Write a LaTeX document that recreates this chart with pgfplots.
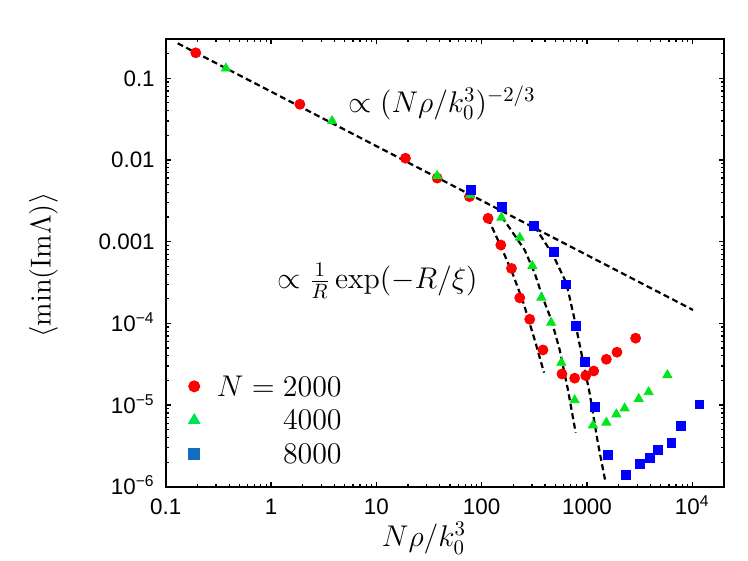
\documentclass[border=0pt]{standalone}
\usepackage[no-math]{fontspec}
\usepackage{graphicx}
\usepackage{pgfplots}
\usepackage{pgfplotstable}
\pgfplotsset{compat=1.18}
\newfontfamily\arial{Liberation Sans}
\definecolor{cred}{RGB}{255,0,0}
\definecolor{cgreen}{RGB}{0,230,30}
\definecolor{cblue}{RGB}{0,0,255}
\definecolor{lgreen}{RGB}{0,225,90}
\definecolor{lblue}{RGB}{20,110,190}
\newcommand{\sbx}[1]{\scalebox{1.04}{#1}}

\pgfplotstableread{
x y
0.193 0.205
1.88 0.048
18.9 0.0105
37.8 0.0060
76.6 0.00356
115 0.00193
152 0.00091
192 0.00047
230 0.000205
286 0.000112
382 4.72e-5
579 2.40e-5
764 2.13e-5
973 2.29e-5
1158 2.61e-5
1528 3.63e-5
1927 4.43e-5
2897 6.58e-5
}\redpts

\pgfplotstableread{
x y
0.373 0.132
3.8 0.030
37.8 0.0064
77.5 0.0037
154 0.00197
230 0.00112
303 0.000505
369 0.000207
457 0.000102
571 3.3e-5
764 1.15e-5
1141 5.65e-6
1528 6.1e-6
1901 7.7e-6
2280 9.1e-6
3100 1.19e-5
3850 1.44e-5
5800 2.33e-5
}\greenpts

\pgfplotstableread{
x y
79.5 0.0043
156 0.00264
314 0.00156
486 0.000755
628 0.00030
781 9.37e-5
950 3.34e-5
1183 9.55e-6
1582 2.45e-6
2328 1.41e-6
3162 1.9e-6
3935 2.23e-6
4720 2.82e-6
6320 3.4e-6
7740 5.6e-6
11700 1.02e-5
}\bluepts

\pgfplotstableread{
x y
115 0.00193
160 0.000755
199 0.000391
247 0.000185
319 6.27e-5
391 2.49e-5
}\redfit

\pgfplotstableread{
x y
154 0.00202
185 0.00146
256 0.000791
319 0.00041
382 0.000203
459 0.00011
551 4.72e-5
660 1.53e-5
781 4.59e-6
}\greenfit

\pgfplotstableread{
x y
319 0.00153
476 0.000687
638 0.00031
764 0.00011
885 4.3e-5
1061 1.39e-5
1271 3.4e-6
1496 1.15e-6
}\bluefit

\pgfplotstableread{
x y
0.13 0.268
10140 0.000146
}\powerfit

\begin{document}
\begin{tikzpicture}
\useasboundingbox (-82.85pt,-37.15pt) rectangle (291.15pt,243.35pt);
\begin{axis}[
  at={(0,0)}, anchor=south west,
  scale only axis, width=279.15pt, height=223.7pt,
  xmode=log, ymode=log,
  xmin=0.1, xmax=20000, ymin=1e-6, ymax=0.3,
  axis line style={line width=0.9pt},
  xtick={0.1,1,10,100,1000,10000},
  xticklabels={0.1,1,10,100,1000,10\textsuperscript{4}},
  ytick={1e-6,1e-5,1e-4,0.001,0.01,0.1},
  yticklabels={10\textsuperscript{−6},10\textsuperscript{−5},10\textsuperscript{−4},0.001,0.01,0.1},
  minor xtick={0.2,0.3,0.4,0.5,0.6,0.7,0.8,0.9,2,3,4,5,6,7,8,9,20,30,40,50,60,70,80,90,200,300,400,500,600,700,800,900,2000,3000,4000,5000,6000,7000,8000,9000},
  minor ytick={2e-6,3e-6,4e-6,5e-6,6e-6,7e-6,8e-6,9e-6,2e-5,3e-5,4e-5,5e-5,6e-5,7e-5,8e-5,9e-5,2e-4,3e-4,4e-4,5e-4,6e-4,7e-4,8e-4,9e-4,0.002,0.003,0.004,0.005,0.006,0.007,0.008,0.009,0.02,0.03,0.04,0.05,0.06,0.07,0.08,0.09,0.2},
  tick align=inside,
  major tick length=2.6pt, minor tick length=1.5pt,
  tick style={line width=0.6pt, black},
  ticklabel style={font=\arial\fontsize{11.2}{13}\selectfont},
  xticklabel style={anchor=north, inner sep=0pt, text height=8pt, text depth=0pt, yshift=-5.5pt},
  yticklabel style={anchor=east, inner sep=0pt, text height=8pt, text depth=0pt, xshift=-5.3pt},
  xlabel={\sbx{$N\rho/k_0^3$}},
  xlabel style={at={(axis description cs:0.4627,-0.1341)}, anchor=base, inner sep=0pt, font=\fontsize{14.4}{17}\selectfont},
  ylabel={$\langle \min(\mathrm{Im}\Lambda)\rangle$},
  ylabel style={at={(axis description cs:-0.2189,0.4955)}, anchor=center, inner sep=0pt, font=\fontsize{14.4}{17}\selectfont},
  legend style={draw=none, fill=none, at={(axis description cs:0.3152,0.2459)}, anchor=north east,
    inner sep=0pt, outer sep=0pt, row sep=7.3pt, column sep=8.5pt,
    font=\fontsize{14.4}{17}\selectfont,
    nodes={inner sep=0pt, text height=9.66pt, text depth=0pt}},
  legend cell align=right,
  legend image code/.code={\draw[#1] plot coordinates {(0pt,0pt)};},
]
\addlegendimage{only marks, mark=*, mark size=2.8pt, color=cred}
\addlegendentry{\sbx{$N=2000$}}
\addlegendimage{only marks, mark=triangle*, mark size=3.3pt, color=lgreen}
\addlegendentry{\sbx{$4000$}}
\addlegendimage{only marks, mark=square*, mark size=2.8pt, color=lblue}
\addlegendentry{\sbx{$8000$}}

\addplot[forget plot, only marks, mark=*, mark size=2.5pt, color=cred] table {\redpts};
\addplot[forget plot, only marks, mark=triangle*, mark size=2.6pt, color=cgreen] table {\greenpts};
\addplot[forget plot, only marks, mark=square*, mark size=2.2pt, color=cblue] table {\bluepts};

\addplot[forget plot, black, line width=1.1pt, dash pattern=on 3pt off 1.8pt] table {\powerfit};
\addplot[forget plot, black, line width=1.1pt, dash pattern=on 3pt off 1.8pt] table {\redfit};
\addplot[forget plot, black, line width=1.1pt, dash pattern=on 3pt off 1.8pt] table {\greenfit};
\addplot[forget plot, black, line width=1.1pt, dash pattern=on 3pt off 1.8pt] table {\bluefit};

\node[anchor=base west, inner sep=0pt, font=\fontsize{14.4}{17}\selectfont] at (axis cs:5.40,0.0381) {\sbx{$\propto (N\rho/k_0^3)^{-2/3}$}};
\node[anchor=base west, inner sep=0pt, font=\fontsize{14.4}{17}\selectfont] at (axis cs:1.145,2.67e-4) {\sbx{$\propto \frac{1}{R}\exp(-R/\xi)$}};
\end{axis}
\end{tikzpicture}
\end{document}
